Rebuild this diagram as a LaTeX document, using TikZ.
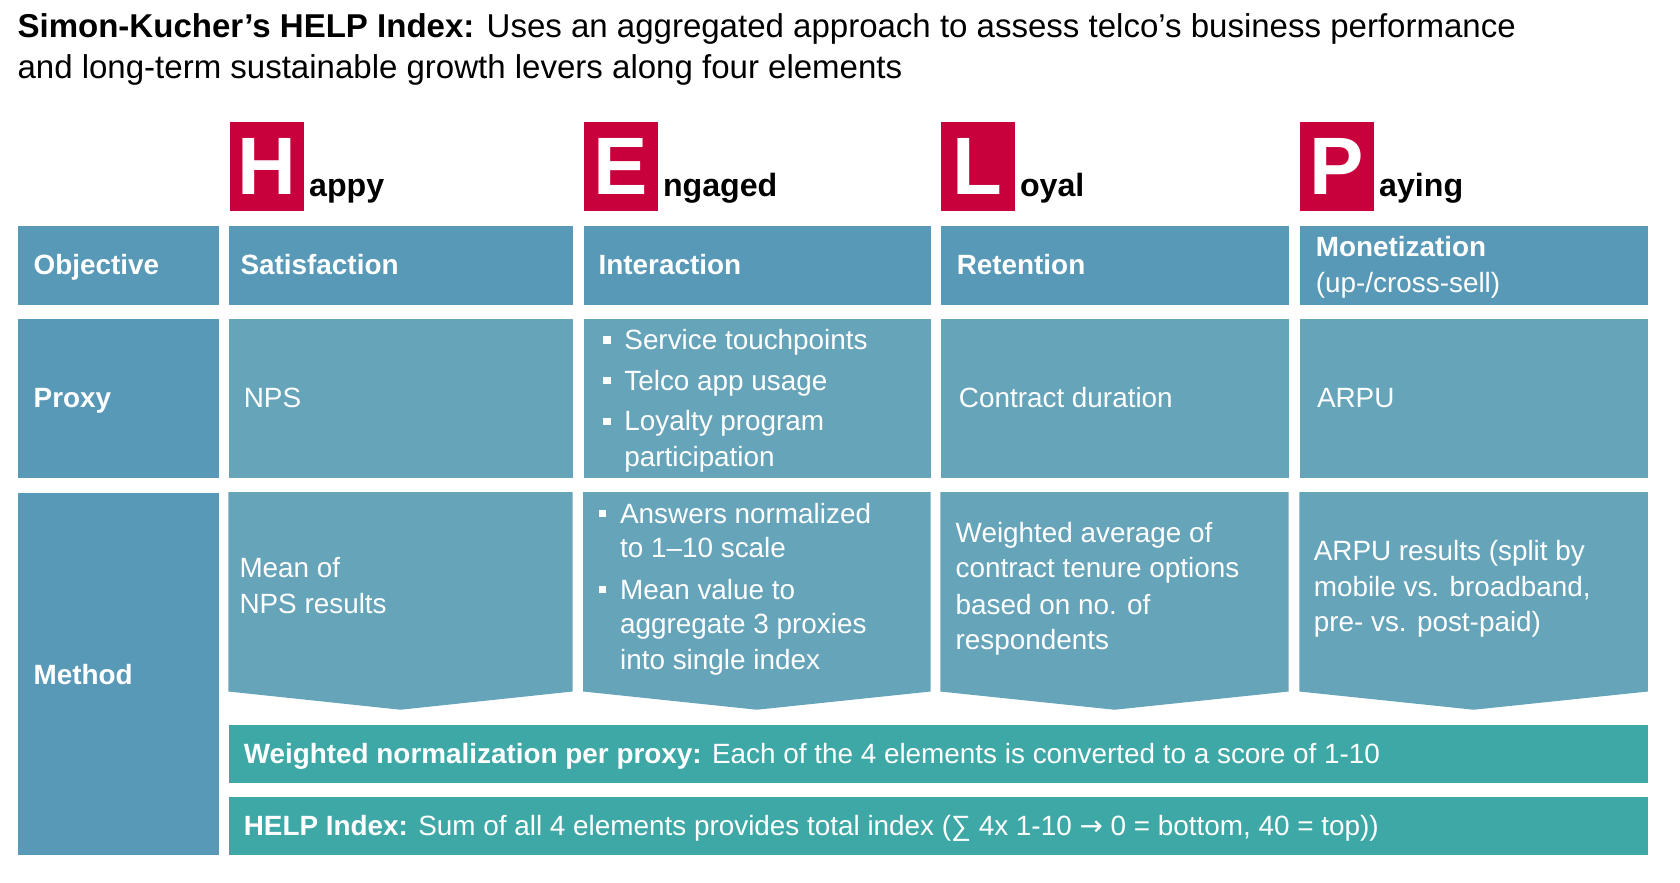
\documentclass[tikz,border=0pt]{standalone}
\usepackage{fontspec}
\setmainfont{Liberation Sans}
\newfontfamily\arrowfont{DejaVu Sans}
\definecolor{helpred}{HTML}{C8003C}
\definecolor{objblue}{HTML}{5799B7}
\definecolor{cellblue}{HTML}{66A4BA}
\definecolor{sumteal}{HTML}{3EA8A6}
\tikzset{
  cell/.style={fill=#1, inner sep=0pt, anchor=north west},
  letterbox/.style={fill=helpred, text=white, font=\bfseries\fontsize{38}{38}\selectfont,
    minimum width=34.5pt, minimum height=41.5pt, inner sep=0pt, anchor=north west},
  word/.style={font=\bfseries\fontsize{15}{15}\selectfont, anchor=base west, inner sep=0pt},
  lbl/.style={text=white, font=\bfseries\fontsize{13}{13}\selectfont, anchor=base west, inner sep=0pt},
  txt/.style={text=white, font=\fontsize{13}{13}\selectfont, anchor=base west, inner sep=0pt},
  bul/.style={fill=white, minimum size=3.5pt, inner sep=0pt}
}
\begin{document}
\begin{tikzpicture}[x=0.5pt, y=-0.5pt]
  \useasboundingbox (0,0) rectangle (1567,823);

  % title
  \node[anchor=base west, inner sep=0pt, font=\fontsize{15.4}{15.4}\selectfont] (title1) at (16,35)
    {\textbf{Simon-Kucher’s HELP Index:} Uses an aggregated approach to assess telco’s business performance};
  \node[anchor=base west, inner sep=0pt, font=\fontsize{15.4}{15.4}\selectfont] (title2) at (16,73)
    {and long-term sustainable growth levers along four elements};

  % HELP letters
  \foreach \x/\L/\rest/\nm in {214/H/appy/h, 544/E/ngaged/e, 877/L/oyal/l, 1212/P/aying/p}{
    \node[letterbox] (box\nm) at (\x,113) {\L};
    \node[word] (word\nm) at (\x+74,183) {\rest};
  }

  % row backgrounds
  \node[cell=objblue, minimum width=94pt, minimum height=37pt] (objlbl) at (16,210) {};
  \node[cell=objblue, minimum width=94pt, minimum height=74pt] (proxylbl) at (16,297) {};
  \node[cell=objblue, minimum width=94pt, minimum height=169pt] (methlbl) at (16,459) {};
  \foreach \x/\w/\nm in {213/160.5/h, 544/162/e, 877/162.5/l, 1212/162.5/p}{
    \node[cell=objblue, minimum width=\w pt, minimum height=37pt] (obj\nm) at (\x,210) {};
    \node[cell=cellblue, minimum width=\w pt, minimum height=74pt] (proxy\nm) at (\x,297) {};
    \fill[cellblue] (\x,459) -- ++(2*\w,0) -- ++(0,186) -- ({\x+\w},662) -- (\x,645) -- cycle;
  }
  \node[cell=sumteal, minimum width=662pt, minimum height=27pt] (normbar) at (213,676) {};
  \node[cell=sumteal, minimum width=662pt, minimum height=27pt] (indexbar) at (213,743) {};

  % row labels
  \node[lbl] at (31,256) {Objective};
  \node[lbl] at (31,380) {Proxy};
  \node[lbl] at (31,638) {Method};

  % objective
  \node[lbl] at (224,256) {Satisfaction};
  \node[lbl] at (558,256) {Interaction};
  \node[lbl] at (892,256) {Retention};
  \node[lbl] at (1227,239) {Monetization};
  \node[txt] at (1227,273) {(up-/cross-sell)};

  % proxy
  \node[txt] at (227,380) {NPS};
  \foreach \y/\t in {326/Service touchpoints, 364/Telco app usage, 402/Loyalty program}{
    \node[bul] at (566,\y-9) {};
    \node[txt] at (582,\y) {\t};
  }
  \node[txt] at (582,435) {participation};
  \node[txt] at (894,380) {Contract duration};
  \node[txt] at (1228,380) {ARPU};

  % method
  \node[txt] at (223,539) {Mean of};
  \node[txt] at (223,572) {NPS results};
  \node[bul] at (562,479) {};
  \node[txt] at (578,488) {Answers normalized};
  \node[txt] at (578,520) {to 1–10 scale};
  \node[bul] at (562,550) {};
  \node[txt] at (578,559) {Mean value to};
  \node[txt] at (578,591) {aggregate 3 proxies};
  \node[txt] at (578,624) {into single index};
  \foreach \y/\t in {506/Weighted average of, 539/contract tenure options, 573/based on no. of, 606/respondents}
    \node[txt] at (891,\y) {\t};
  \foreach \y/\t in {523/ARPU results (split by, 556/{mobile vs. broadband,}, 589/pre- vs. post-paid)}
    \node[txt] at (1225,\y) {\t};

  % bars
  \node[txt] at (227,712) {\textbf{Weighted normalization per proxy:} Each of the 4 elements is converted to a score of 1-10};
  \node[txt] at (227,779) {\textbf{HELP Index:} Sum of all 4 elements provides total index (∑ 4x 1-10 {\arrowfont →} 0 = bottom, 40 = top))};
\end{tikzpicture}
\end{document}
